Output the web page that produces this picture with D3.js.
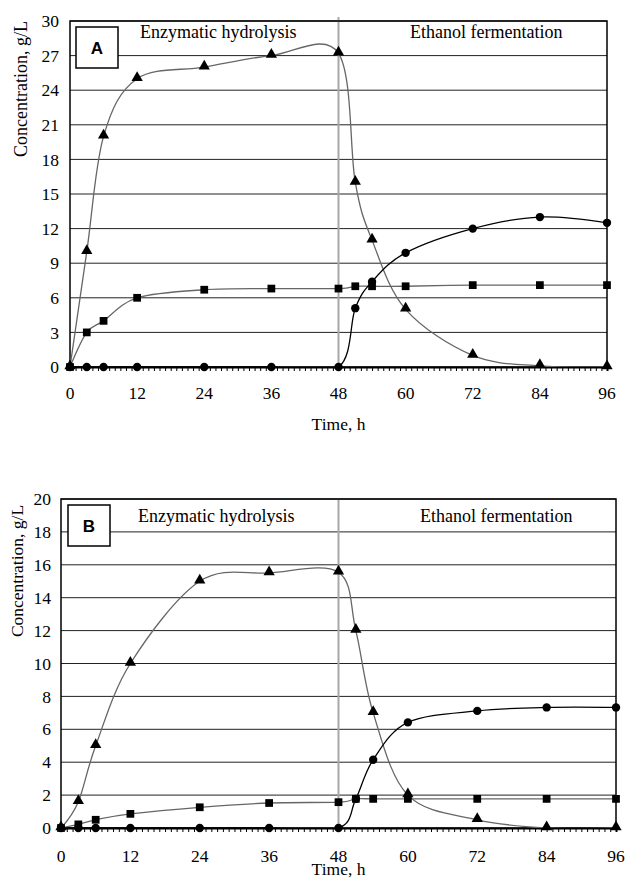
<!DOCTYPE html>
<meta charset="utf-8">
<title>Concentration vs time</title>
<style>
    body {
        margin: 0;
        background: #fff;
    }
    text {
        font-family: "Liberation Serif", "Times New Roman", serif;
        fill: #000;
    }
    .letter {
        font-family: "Liberation Sans", Arial, sans-serif;
        font-weight: bold;
    }
</style>
<body>
<div id="chart"></div>
<script src="https://cdn.jsdelivr.net/npm/d3@7"></script>
<script>
// sampling times (h)
var hours = [0, 3, 6, 12, 24, 36, 48, 51, 54, 60, 72, 84, 96];

// panel A
var glucoseA = [0, 10, 20, 25, 26, 27, 27.2, 16, 11, 5, 1, 0.1, 0];
var xyloseA = [0, 3, 4, 6, 6.7, 6.8, 6.8, 7.0, 7.0, 7.0, 7.1, 7.1, 7.1];
var ethanolA = [0, 0, 0, 0, 0, 0, 0, 5.1, 7.4, 9.9, 12.0, 13.0, 12.5];

// panel B
var glucoseB = [0, 1.6, 5, 10, 15, 15.5, 15.55, 12, 7, 2, 0.5, 0, 0];
var xyloseB = [0, 0.22, 0.5, 0.86, 1.26, 1.52, 1.57, 1.77, 1.77, 1.77, 1.77, 1.77, 1.77];
var ethanolB = [0, 0, 0, 0, 0, 0, 0, 1.77, 4.15, 6.42, 7.12, 7.33, 7.33];

var xTicks = [0, 12, 24, 36, 48, 60, 72, 84, 96];
var yTicksA = [0, 3, 6, 9, 12, 15, 18, 21, 24, 27, 30];
var yTicksB = [0, 2, 4, 6, 8, 10, 12, 14, 16, 18, 20];
var phaseLabels = ["Enzymatic hydrolysis", "Ethanol fermentation"];

var svg = d3.select("#chart")
    .append("svg")
    .attr("width", 628)
    .attr("height", 879);

function drawPanel(p) {
    var g = svg.append("g")
        .attr("transform", "translate(" + p.left + "," + p.top + ")");

    var x = d3.scaleLinear().domain([0, 96]).range([0, p.width]);
    var y = d3.scaleLinear().domain([0, p.yMax]).range([p.height, 0]);

    // clip the curves to the plot area, like the spreadsheet does
    svg.append("clipPath")
        .attr("id", "clip" + p.letter)
        .append("rect")
        .attr("width", p.width)
        .attr("height", p.height);

    // horizontal gridlines
    g.selectAll(".grid")
        .data(p.yTicks.slice(1))
        .enter()
        .append("line")
        .attr("x1", 0)
        .attr("x2", p.width)
        .attr("y1", function(d) { return y(d); })
        .attr("y2", function(d) { return y(d); })
        .attr("stroke", "#222")
        .attr("stroke-width", 1);

    // phase separator at 48 h
    g.append("line")
        .attr("x1", x(48)).attr("x2", x(48))
        .attr("y1", p.sepTop).attr("y2", p.height)
        .attr("stroke", "#a8a8a8")
        .attr("stroke-width", 2);

    // border
    g.append("rect")
        .attr("width", p.width)
        .attr("height", p.height)
        .attr("fill", "none")
        .attr("stroke", "#000")
        .attr("stroke-width", 1.5);

    // x axis with hourly minor ticks
    var xAxis = g.append("g")
        .attr("transform", "translate(0," + p.height + ")")
        .call(d3.axisBottom(x).tickValues(d3.range(0, 97, 1)).tickSize(4).tickFormat(""));
    xAxis.select(".domain").attr("stroke-width", 2);
    xAxis.selectAll(".tick line").attr("stroke-width", 1);

    g.selectAll(".xlab")
        .data(xTicks)
        .enter()
        .append("text")
        .attr("x", function(d) { return x(d); })
        .attr("y", p.height + p.xLabOffset)
        .attr("text-anchor", "middle")
        .style("font-size", "17.5px")
        .text(function(d) { return d; });

    g.selectAll(".ylab")
        .data(p.yTicks)
        .enter()
        .append("text")
        .attr("x", p.yLabX)
        .attr("y", function(d) { return y(d); })
        .attr("dy", "0.35em")
        .attr("text-anchor", "end")
        .style("font-size", "17.5px")
        .text(function(d) { return d; });

    // axis titles
    g.append("text")
        .attr("transform", "translate(" + p.yTitleX + "," + p.yTitleY + ") rotate(-90)")
        .attr("text-anchor", "middle")
        .attr("dy", "0.35em")
        .style("font-size", p.yTitleSize)
        .text("Concentration, g/L");

    g.append("text")
        .attr("x", x(48))
        .attr("y", p.height + p.xTitleOffset)
        .attr("text-anchor", "middle")
        .style("font-size", "17.5px")
        .text("Time, h");

    // phase labels
    g.append("text")
        .attr("x", p.phase1X)
        .attr("y", p.phaseY)
        .style("font-size", "18px")
        .text(phaseLabels[0]);
    g.append("text")
        .attr("x", p.phase2X)
        .attr("y", p.phaseY)
        .style("font-size", "18px")
        .text(phaseLabels[1]);

    // panel letter box
    g.append("rect")
        .attr("x", p.boxX).attr("y", p.boxY)
        .attr("width", 42).attr("height", 41)
        .attr("fill", "#fff")
        .attr("stroke", "#000")
        .attr("stroke-width", 1.5);
    g.append("text")
        .attr("class", "letter")
        .attr("x", p.boxX + 21)
        .attr("y", p.boxY + 21)
        .attr("dy", "0.36em")
        .attr("text-anchor", "middle")
        .style("font-size", "17px")
        .text(p.letter);

    // smoothed series
    var line = d3.line()
        .x(function(d, i) { return x(hours[i]); })
        .y(function(d) { return y(d); })
        .curve(d3.curveCardinal.tension(0));

    var series = [
        { values: p.xylose, color: "#666", marker: d3.symbolSquare, size: 60 },
        { values: p.glucose, color: "#666", marker: d3.symbolTriangle, size: 55 },
        { values: p.ethanol, color: "#000", marker: d3.symbolCircle, size: 55 }
    ];

    var curves = g.append("g").attr("clip-path", "url(#clip" + p.letter + ")");
    series.forEach(function(s) {
        curves.append("path")
            .attr("d", line(s.values))
            .attr("fill", "none")
            .attr("stroke", s.color)
            .attr("stroke-width", 1.3);
    });

    series.forEach(function(s) {
        g.selectAll(null)
            .data(s.values)
            .enter()
            .append("path")
            .attr("d", d3.symbol().type(s.marker).size(s.size))
            .attr("transform", function(d, i) {
                var dy = s.marker === d3.symbolTriangle ? -1 : 0;
                return "translate(" + x(hours[i]) + "," + (y(d) + dy) + ")";
            })
            .attr("fill", "#000");
    });
}

drawPanel({
    left: 70, top: 21, width: 537, height: 346, yMax: 30,
    yTicks: yTicksA,
    glucose: glucoseA, xylose: xyloseA, ethanol: ethanolA,
    sepTop: -4,
    xLabOffset: 32, xTitleOffset: 63,
    yLabX: -11, yTitleX: -49, yTitleY: 68, yTitleSize: "18px",
    phase1X: 70, phaseY: 17, phase2X: 340,
    boxX: 6, boxY: 6, letter: "A"
});

drawPanel({
    left: 61, top: 499, width: 555, height: 329, yMax: 20,
    yTicks: yTicksB,
    glucose: glucoseB, xylose: xyloseB, ethanol: ethanolB,
    sepTop: 0,
    xLabOffset: 34, xTitleOffset: 47,
    yLabX: -10, yTitleX: -44, yTitleY: 72, yTitleSize: "17.5px",
    phase1X: 77, phaseY: 23, phase2X: 359,
    boxX: 7, boxY: 6, letter: "B"
});
</script>
</body>
